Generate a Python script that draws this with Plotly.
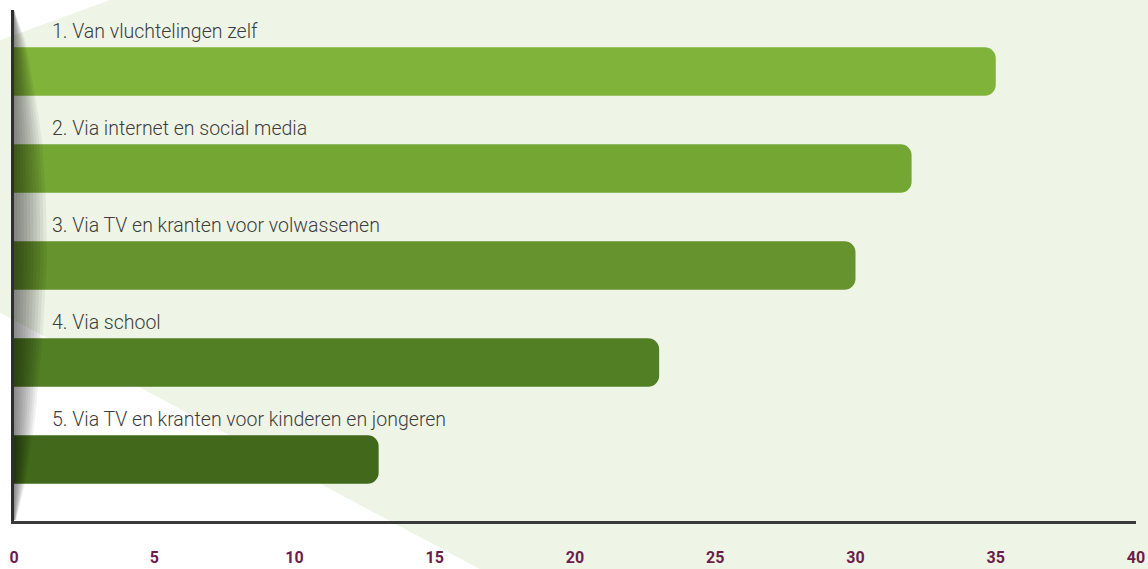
import plotly.graph_objects as go

# ---- data ----
categories = [
    "1. Van vluchtelingen zelf",
    "2. Via internet en social media",
    "3. Via TV en kranten voor volwassenen",
    "4. Via school",
    "5. Via TV en kranten voor kinderen en jongeren",
]
values = [35, 32, 30, 23, 13]
bar_colors = ["#80B33A", "#74A634", "#66932D", "#527E24", "#42691B"]
tick_vals = [0, 5, 10, 15, 20, 25, 30, 35, 40]

W, H = 1148, 569
L, R, T, B = 14, 12, 10, 48
pw, ph = W - L - R, H - T - B


def px2paper(px, py):
    return (px - L) / pw, (H - B - py) / ph


def path_from_px(points):
    pts = [px2paper(x, y) for x, y in points]
    return "M " + " L ".join(f"{x:.5f},{y:.5f}" for x, y in pts) + " Z"


fig = go.Figure()

ypos = list(range(len(categories)))
fig.add_trace(go.Bar(
    x=values, y=ypos, orientation="h", width=0.5,
    marker=dict(color=bar_colors, line=dict(width=0)),
    hoverinfo="skip", showlegend=False,
))

shapes = []
# light green background polygon
bg_pts = [(-5, 42), (110, 0), (W + 5, -5), (W + 5, H + 5), (489, H + 5), (-5, 310)]
shapes.append(dict(type="path", xref="paper", yref="paper", path=path_from_px(bg_pts),
                   fillcolor="#EFF5E6", line=dict(width=0), layer="below"))

# gray shading lens next to the axis (layered for a gradient)
lens = [(10, 0), (40, 11), (60, 15), (100, 22), (140, 28), (200, 32), (260, 33),
        (330, 29), (420, 21), (480, 12), (520, 2)]
n = 10
for k in range(n):
    f = 1 - k / n
    pts = [(L, 10)] + [(L + off * f, y) for y, off in lens] + [(L, 520)]
    shapes.append(dict(type="path", xref="paper", yref="paper", path=path_from_px(pts),
                       fillcolor="rgba(0,0,0,0.055)", line=dict(width=0), layer="above"))

annotations = []
for i, c in enumerate(categories):
    annotations.append(dict(
        x=0, y=i - 0.41, xref="x", yref="y", text=c, showarrow=False,
        xanchor="left", yanchor="middle", xshift=36,
        font=dict(family="Roboto", size=19.5, color="#3C3C3C", weight=300),
    ))

fig.update_layout(
    width=W, height=H, autosize=False,
    margin=dict(l=L, r=R, t=T, b=B, autoexpand=False),
    paper_bgcolor="white", plot_bgcolor="rgba(0,0,0,0)",
    barcornerradius=11,
    shapes=shapes, annotations=annotations,
    xaxis=dict(range=[0, 40], tickvals=tick_vals, showgrid=False, zeroline=False,
               showline=True, linecolor="#3A3A3A", linewidth=3, automargin=False,
               ticks="", ticklabelstandoff=20,
               tickfont=dict(family="Roboto", size=16, color="#6B1D4C", weight="bold")),
    yaxis=dict(range=[4.633, -0.633], showgrid=False, zeroline=False,
               showline=True, linecolor="#2E2E2E", linewidth=3, automargin=False,
               showticklabels=False, ticks=""),
)

fig.write_html(
    "out.html",
    config={"responsive": False, "displayModeBar": False},
    post_script="document.body.style.margin='0';document.body.style.overflow='hidden';",
)
